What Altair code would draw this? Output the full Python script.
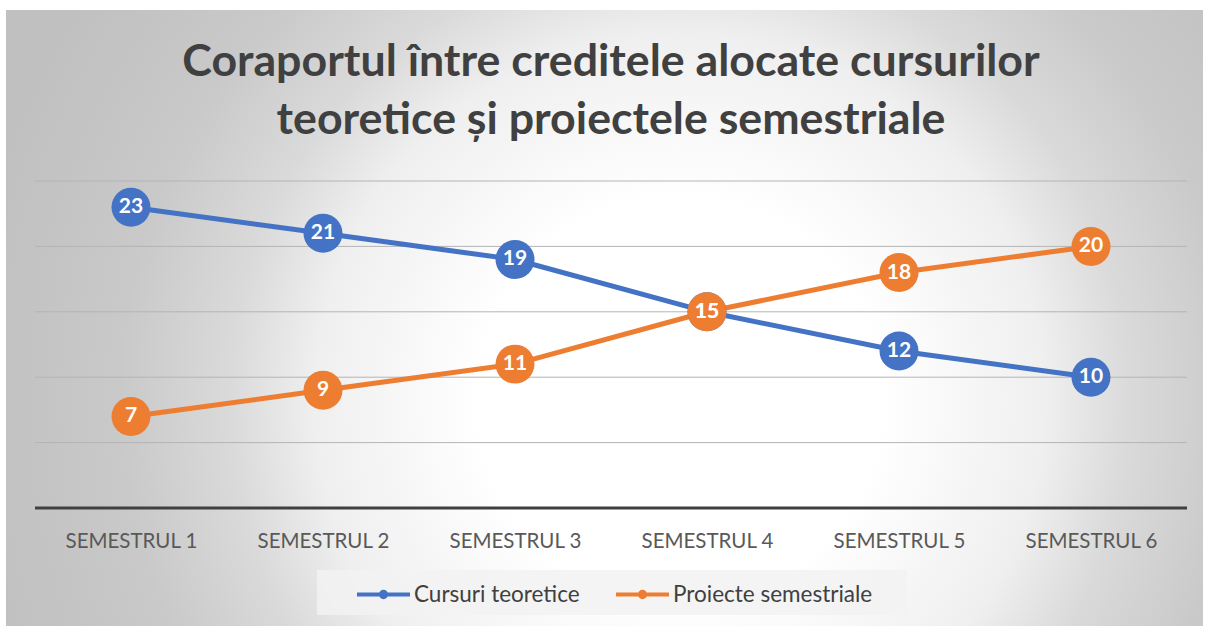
import altair as alt
import pandas as pd

categories = ["SEMESTRUL 1", "SEMESTRUL 2", "SEMESTRUL 3", "SEMESTRUL 4", "SEMESTRUL 5", "SEMESTRUL 6"]
series_names = ["Cursuri teoretice", "Proiecte semestriale"]
cursuri = [23, 21, 19, 15, 12, 10]
proiecte = [7, 9, 11, 15, 18, 20]
grid_values = [5, 10, 15, 20, 25]
baseline_values = [0]
colors = ["#4472C4", "#ED7D31"]
title_lines = ["Coraportul între creditele alocate cursurilor", "teoretice și proiectele semestriale"]

rows = []
for name, vals in zip(series_names, [cursuri, proiecte]):
    for c, v in zip(categories, vals):
        rows.append({"sem": c, "serie": name, "val": v})
df = pd.DataFrame(rows)
grid_df = pd.DataFrame({"v": grid_values})
base_df = pd.DataFrame({"v": baseline_values})

W, H = 1152, 327
LEFT, TOP = 35, 181

yscale = alt.Scale(domain=[0, 25], nice=False)
color = alt.Color(
    "serie:N",
    scale=alt.Scale(domain=series_names, range=colors),
    legend=alt.Legend(
        title=None,
        orient="none",
        direction="horizontal",
        legendX=320,
        legendY=385,
        padding=0,
        symbolType="M-1,0H1M-0.1,0A0.1,0.1 0 1,0 0.1,0A0.1,0.1 0 1,0 -0.1,0ZM-0.04,0A0.04,0.04 0 1,0 0.04,0A0.04,0.04 0 1,0 -0.04,0Z",
        symbolSize=2809,
        symbolStrokeWidth=4,
        labelFont="Lato",
        labelFontSize=22.5,
        labelColor="#404040",
        labelOffset=2,
        labelLimit=400,
        columnPadding=28,
    ),
)

xenc = alt.X(
    "sem:N",
    sort=categories,
    scale=alt.Scale(domain=categories),
    axis=alt.Axis(
        title=None,
        labelAngle=0,
        labelFont="Lato",
        labelFontSize=20.5,
        labelColor="#595959",
        labelPadding=23,
        labelLimit=300,
        domain=False,
        ticks=False,
        grid=False,
        zindex=1,
    ),
)

bg = alt.Chart(pd.DataFrame({"a": [0]})).mark_rect(
    fill={
        "gradient": "radial",
        "x1": 0.563, "y1": 0.568, "r1": 0,
        "x2": 0.563, "y2": 0.568, "r2": 0.6,
        "stops": [
            {"offset": 0, "color": "#ffffff"},
            {"offset": 0.28, "color": "#ffffff"},
            {"offset": 0.51, "color": "#efefef"},
            {"offset": 0.625, "color": "#dadada"},
            {"offset": 0.78, "color": "#c9c9c9"},
            {"offset": 1, "color": "#c0c0c0"},
        ],
    }
).encode(
    x=alt.value(6 - LEFT),
    x2=alt.value(1203 - LEFT),
    y=alt.value(10 - TOP),
    y2=alt.value(626 - TOP),
)

legend_box = alt.Chart(pd.DataFrame({"a": [0]})).mark_rect(fill="#f2f2f2", opacity=0.85).encode(
    x=alt.value(317 - LEFT),
    x2=alt.value(907 - LEFT),
    y=alt.value(570 - TOP),
    y2=alt.value(615 - TOP),
)

grid = alt.Chart(grid_df).mark_rule(color="#b4b4b4", strokeWidth=1).encode(
    y=alt.Y("v:Q", scale=yscale, axis=None)
)

baseline = alt.Chart(base_df).mark_rule(color="#404040", strokeWidth=3).encode(
    y=alt.Y("v:Q", scale=yscale, axis=None)
)

lines = alt.Chart(df).mark_line(strokeWidth=5).encode(
    x=xenc,
    y=alt.Y("val:Q", scale=yscale, axis=None),
    color=color,
    detail="serie:N",
)

points = alt.Chart(df).mark_point(filled=True, size=1520, opacity=1, shape="circle").encode(
    x=xenc,
    y=alt.Y("val:Q", scale=yscale, axis=None),
    color=alt.Color("serie:N", scale=alt.Scale(domain=series_names, range=colors), legend=None),
)

labels = alt.Chart(df).mark_text(
    font="Lato", fontSize=21, fontWeight="bold", color="white", align="center", baseline="middle"
).encode(
    x=xenc,
    y=alt.Y("val:Q", scale=yscale, axis=None),
    text="val:Q",
)

chart = alt.layer(bg, legend_box, grid, baseline, lines, points, labels).properties(
    width=W,
    height=H,
    title=alt.TitleParams(
        title_lines,
        font="Lato",
        fontSize=44.7,
        fontWeight="bold",
        color="#404040",
        anchor="middle",
        lineHeight=58,
        dy=138,
    ),
    autosize=alt.AutoSizeParams(type="none"),
    padding={"left": LEFT, "top": TOP, "right": 1206 - LEFT - W, "bottom": 626 - TOP - H},
    background="white",
).configure_view(stroke=None)

chart.save("out.html", embed_options={"renderer": "svg", "actions": False})
